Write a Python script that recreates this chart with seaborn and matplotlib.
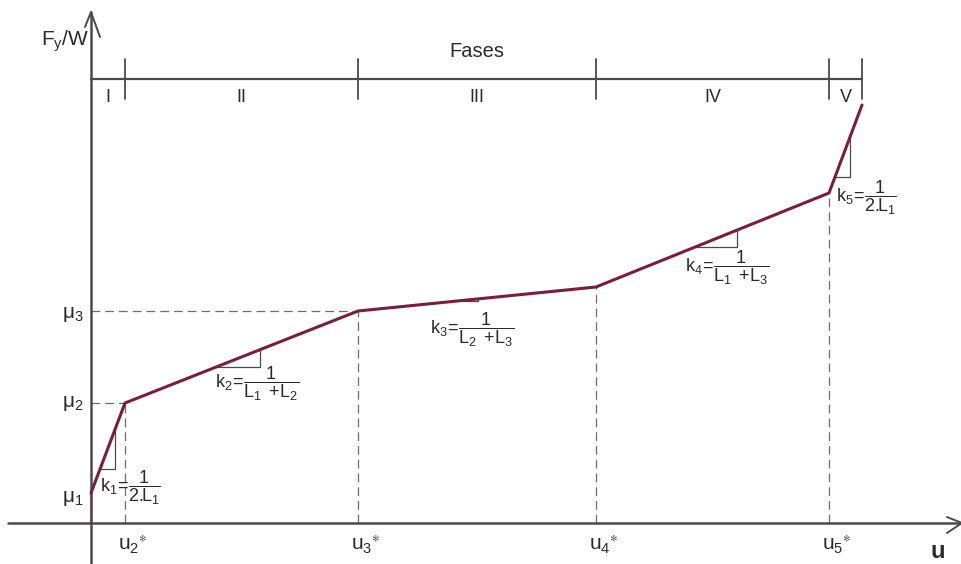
import numpy as np
import pandas as pd
import matplotlib
matplotlib.use("Agg")
import matplotlib.pyplot as plt
import seaborn as sns

# Breakpoints of the piecewise-linear friction law (u, Fy/W)
u_break = [0.0, 0.34, 2.67, 5.05, 7.38, 7.71]
fy_break = [0.30, 1.20, 2.12, 2.36, 3.30, 4.18]

phase_names = ["I", "II", "III", "IV", "V"]
u_star_labels = [r"$\mathregular{u_2{}^{\ast}}$", r"$\mathregular{u_3{}^{\ast}}$",
                 r"$\mathregular{u_4{}^{\ast}}$", r"$\mathregular{u_5{}^{\ast}}$"]
mu_labels = [r"$\mathregular{\mu_1}$", r"$\mathregular{\mu_2}$", r"$\mathregular{\mu_3}$"]
stiffness_labels = [
    r"$k_1\!=\!\dfrac{1}{2.\!\!L_1}$",
    r"$k_2\!=\!\dfrac{1}{L_1\ +\!L_2}$",
    r"$k_3\!=\!\dfrac{1}{L_2\ +\!L_3}$",
    r"$k_4\!=\!\dfrac{1}{L_1\ +\!L_3}$",
    r"$k_5\!=\!\dfrac{1}{2.\!\!L_1}$",
]
# slope triangles: start/end abscissa on each segment
tri_u = [(0.09, 0.24), (1.25, 1.69), (3.70, 3.87), (6.05, 6.46), (7.44, 7.59)]
# label anchor (left edge, centre height)
label_pos = [(0.09, 0.35), (1.24, 1.39), (3.39, 1.93), (5.94, 2.55), (7.45, 3.25)]

sns.set_theme(style="white")
plt.rcParams["font.family"] = ["Liberation Sans", "DejaVu Sans"]
plt.rcParams["mathtext.fontset"] = "custom"
plt.rcParams["mathtext.rm"] = "Liberation Sans"
plt.rcParams["mathtext.it"] = "Liberation Sans"
plt.rcParams["mathtext.bf"] = "Liberation Sans:bold"

fig = plt.figure(figsize=(9.62, 5.64), dpi=100)
ax = fig.add_axes([0, 0, 1, 1])
ax.set_xlim(-0.91, 8.71)
ax.set_ylim(-0.41, 5.23)
ax.axis("off")

axis_col = "#4a4a4a"
text_col = "#2a2a2a"
curve_col = "#7a1e3e"
dash_col = "#6e6e6e"

# coordinate axes with open arrow heads
ax.plot([-0.83, 8.71], [0, 0], color=axis_col, lw=1.8, zorder=2)
ax.plot([0, 0], [-0.41, 5.11], color=axis_col, lw=1.8, zorder=2)
ax.plot([-0.06, 0, 0.09], [4.96, 5.11, 4.86], color=axis_col, lw=1.4)
ax.plot([8.56, 8.71, 8.56], [0.06, 0, -0.10], color=axis_col, lw=1.4)

# guide lines to the breakpoints
for u, f in zip(u_break[1:5], fy_break[1:5]):
    ax.plot([u, u], [0, f], color=dash_col, lw=0.9, ls=(0, (7, 4)), zorder=1)
for idx in (1, 2):
    ax.plot([0, u_break[idx]], [fy_break[idx]] * 2, color=dash_col, lw=0.9,
            ls=(0, (7, 4)), zorder=1)

# the constitutive curve
df = pd.DataFrame({"u": u_break, "F": fy_break})
sns.lineplot(data=df, x="u", y="F", ax=ax, color=curve_col, lw=2.2,
             sort=False, estimator=None, zorder=4)
ax.plot([0, 0], [0, fy_break[0]], color=curve_col, lw=1.6, alpha=0.35, zorder=3)

# slope triangles
def f_at(u):
    return np.interp(u, u_break, fy_break)

for (ua, ub) in tri_u:
    fa, fb = f_at(ua), f_at(ub)
    ax.plot([ua, ub, ub], [fa, fa, fb], color=axis_col, lw=0.9, zorder=3)

for (x, y), s in zip(label_pos, stiffness_labels):
    ax.text(x, y, s, fontsize=13, color=text_col, ha="left", va="center")

# phase bar
y_bar = 4.44
ax.plot([0, u_break[-1]], [y_bar, y_bar], color=axis_col, lw=1.6)
for u in u_break[1:]:
    ax.plot([u, u], [y_bar - 0.20, y_bar + 0.20], color=axis_col, lw=1.3)
for i, name in enumerate(phase_names):
    xm = 0.5 * (u_break[i] + u_break[i + 1])
    ax.text(xm, 4.26, name, fontsize=13, color=text_col, ha="center", va="center")
ax.text(3.86, 4.72, "Fases", fontsize=14.5, color=text_col, ha="center", va="center")

# axis labels
for u, s in zip(u_break[1:5], u_star_labels):
    ax.text(u + 0.08, -0.21, s, fontsize=15, color=text_col, ha="center", va="center")
for f, s, dy in zip(fy_break[:3], mu_labels, [-0.05, 0.0, -0.03]):
    ax.text(-0.18, f + dy, s, fontsize=15, color=text_col, ha="center", va="center")
ax.text(-0.26, 4.82, r"$\mathregular{F_y/W}$", fontsize=15, color=text_col,
        ha="center", va="center")
ax.text(8.47, -0.28, "u", fontsize=17, color=text_col, ha="center", va="center",
        fontweight="bold")

fig.savefig("out.png", dpi=100, facecolor="white")
